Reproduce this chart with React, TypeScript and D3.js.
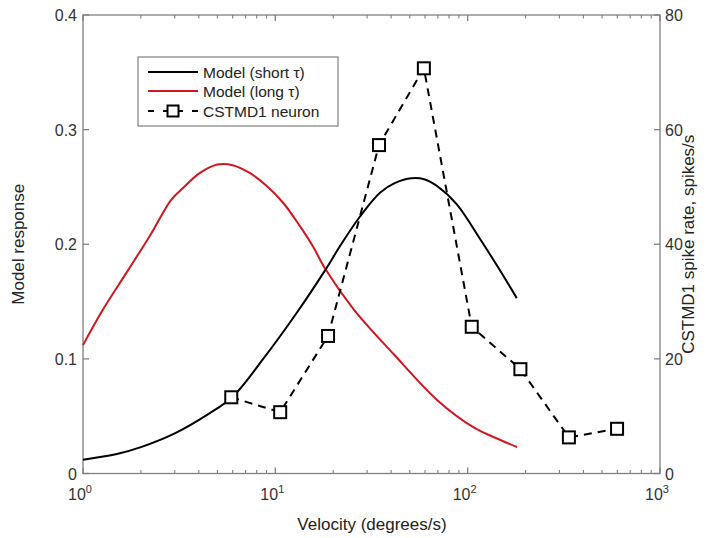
import React from "react";
import * as d3 from "d3";

// Model (short τ): velocity (degrees/s) and response
const shortVel = [1, 1.5, 2, 3, 4.5, 6, 8.65, 12.9, 18.1, 22, 27.5, 35, 42, 51, 60, 69, 87.6, 115.6, 145, 180];
const shortTau = [0.012, 0.017, 0.023, 0.035, 0.052, 0.067, 0.100, 0.140, 0.177, 0.200, 0.224, 0.245, 0.2535, 0.2576, 0.2565, 0.251, 0.235, 0.205, 0.179, 0.153];
// Model (long τ)
const longVel = [1, 1.27, 1.68, 2.22, 2.88, 3.31, 4.04, 5, 6, 7.4, 9, 11, 13.4, 15.7, 18.1, 25.6, 41.3, 69.5, 108, 140, 181];
const longTau = [0.112, 0.143, 0.175, 0.207, 0.239, 0.249, 0.262, 0.2695, 0.269, 0.262, 0.251, 0.236, 0.216, 0.198, 0.179, 0.143, 0.104, 0.064, 0.040, 0.031, 0.023];
// CSTMD1 neuron measurements
const neuronVel = [5.9, 10.6, 18.8, 34.6, 59.2, 105, 188, 336, 598];
const neuronRate = [13.3, 10.7, 24.0, 57.3, 70.7, 25.6, 18.2, 6.3, 7.8];

const leftTicks = [0, 0.1, 0.2, 0.3, 0.4];
const rightTicks = [0, 20, 40, 60, 80];
const decades = [0, 1, 2, 3];

const M = { left: 83, right: 660, top: 15, bottom: 473.5 };
const FONT = "'Liberation Sans', Arial, sans-serif";
const AXIS = "#808080";
const TXT = "#333";

export default function App() {
  const x = d3.scaleLog().domain([1, 1000]).range([M.left, M.right]);
  const yL = d3.scaleLinear().domain([0, 0.4]).range([M.bottom, M.top]);
  const yR = d3.scaleLinear().domain([0, 80]).range([M.bottom, M.top]);

  const curve = (xs: number[], ys: number[]) =>
    d3
      .line<number>()
      .x((_, i) => x(xs[i]))
      .y((d) => yL(d))
      .curve(d3.curveCatmullRom.alpha(0.5))(ys) ?? "";
  const neuronPath =
    d3.line<number>().x((_, i) => x(neuronVel[i])).y((d) => yR(d))(neuronRate) ?? "";

  const minor: number[] = [];
  for (let d = 0; d < 3; d++) for (let k = 2; k < 10; k++) minor.push(k * Math.pow(10, d));

  return (
    <svg width={714} height={538} style={{ position: "absolute", left: 0, top: 0, background: "#fff" }} fontFamily={FONT}>
      <rect width={714} height={538} fill="#fff" />
      {/* frame */}
      <rect x={M.left} y={M.top} width={M.right - M.left} height={M.bottom - M.top} fill="none" stroke={AXIS} strokeWidth={1.3} />

      {/* x ticks */}
      {decades.map((d) => (
        <g key={"xd" + d}>
          <line x1={x(10 ** d)} x2={x(10 ** d)} y1={M.bottom} y2={M.bottom - 6} stroke={AXIS} strokeWidth={1.3} />
          <line x1={x(10 ** d)} x2={x(10 ** d)} y1={M.top} y2={M.top + 6} stroke={AXIS} strokeWidth={1.3} />
          <text x={x(10 ** d) - 3} y={500} textAnchor="middle" fontSize={16} fill={TXT}>
            10<tspan dy={-7} fontSize={11}>{d}</tspan>
          </text>
        </g>
      ))}
      {minor.map((v) => (
        <g key={"xm" + v}>
          <line x1={x(v)} x2={x(v)} y1={M.bottom} y2={M.bottom - 3.5} stroke={AXIS} strokeWidth={1.1} />
          <line x1={x(v)} x2={x(v)} y1={M.top} y2={M.top + 3.5} stroke={AXIS} strokeWidth={1.1} />
        </g>
      ))}

      {/* left axis */}
      {leftTicks.map((t) => (
        <g key={"yl" + t}>
          <line x1={M.left} x2={M.left + 6} y1={yL(t)} y2={yL(t)} stroke={AXIS} strokeWidth={1.3} />
          <text x={M.left - 6} y={yL(t) + 6} textAnchor="end" fontSize={16} fill={TXT}>
            {t}
          </text>
        </g>
      ))}
      {/* right axis */}
      {rightTicks.map((t) => (
        <g key={"yr" + t}>
          <line x1={M.right} x2={M.right - 6} y1={yR(t)} y2={yR(t)} stroke={AXIS} strokeWidth={1.3} />
          <text x={M.right + 5} y={yR(t) + 6} textAnchor="start" fontSize={16} fill={TXT}>
            {t}
          </text>
        </g>
      ))}

      {/* model curves */}
      <path d={curve(longVel, longTau)} fill="none" stroke="#d0161e" strokeWidth={2} />
      <path d={curve(shortVel, shortTau)} fill="none" stroke="#000" strokeWidth={2} />

      {/* neuron data */}
      <path d={neuronPath} fill="none" stroke="#000" strokeWidth={2} strokeDasharray="8,6" />
      {neuronVel.map((v, i) => (
        <rect key={"n" + i} x={x(v) - 6} y={yR(neuronRate[i]) - 6} width={12} height={12} fill="#fff" stroke="#000" strokeWidth={2} />
      ))}

      {/* legend */}
      <rect x={138} y={57} width={200} height={69} fill="#fff" stroke={AXIS} strokeWidth={1.2} />
      <line x1={148} x2={198} y1={72} y2={72} stroke="#000" strokeWidth={2} />
      <text x={203} y={78} fontSize={15.5} fill="#222">Model (short τ)</text>
      <line x1={148} x2={198} y1={91} y2={91} stroke="#d0161e" strokeWidth={2} />
      <text x={203} y={97} fontSize={15.5} fill="#222">Model (long τ)</text>
      <line x1={148} x2={198} y1={111} y2={111} stroke="#000" strokeWidth={2} strokeDasharray="6,9,20,9,6" />
      <rect x={167.5} y={105.5} width={11} height={11} fill="#fff" stroke="#000" strokeWidth={2} />
      <text x={203} y={117} fontSize={15.5} fill="#222">CSTMD1 neuron</text>

      {/* axis titles */}
      <text x={372} y={530} textAnchor="middle" fontSize={17} fill="#222">Velocity (degrees/s)</text>
      <text transform={`translate(24,${(M.top + M.bottom) / 2}) rotate(-90)`} textAnchor="middle" fontSize={17} fill="#222">
        Model response
      </text>
      <text transform={`translate(694,${(M.top + M.bottom) / 2}) rotate(-90)`} textAnchor="middle" fontSize={17} fill="#222">
        CSTMD1 spike rate, spikes/s
      </text>
    </svg>
  );
}
